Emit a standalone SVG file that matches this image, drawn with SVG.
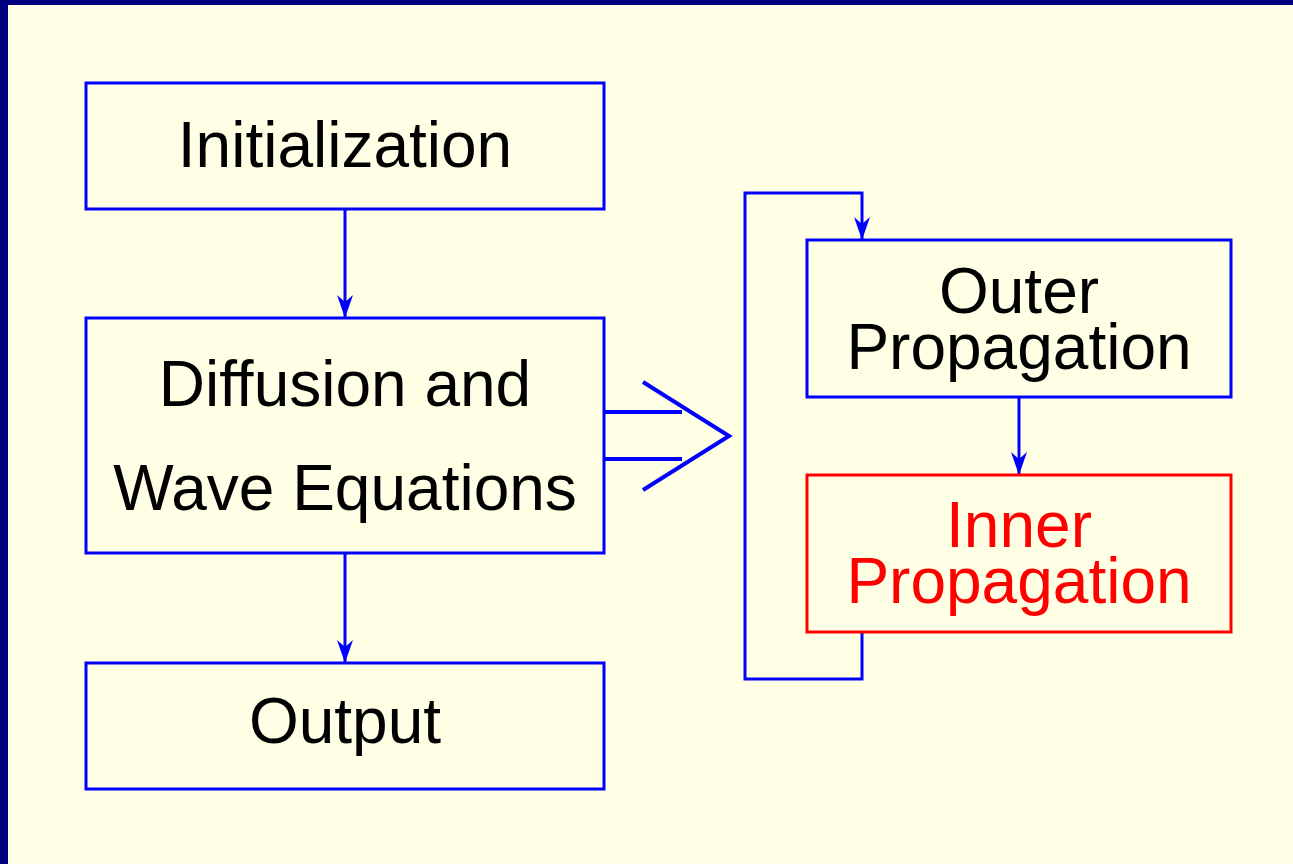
<svg xmlns="http://www.w3.org/2000/svg" width="1293" height="864" viewBox="0 0 1293 864">
<defs>
<marker id="ah" viewBox="0 0 24 18" refX="23" refY="9" markerWidth="24" markerHeight="18" markerUnits="userSpaceOnUse" orient="auto">
<path d="M0,1 L23,9 L0,17 L7,9 Z" fill="#0000FF"/>
</marker>
</defs>
<style>
.box{fill:none;stroke:#0000FF;stroke-width:3}
.red{fill:none;stroke:#FF0000;stroke-width:3}
.t{font-family:"Liberation Sans",Arial,sans-serif;font-size:64px;fill:#000;text-anchor:middle}
.tr{font-family:"Liberation Sans",Arial,sans-serif;font-size:64px;fill:#FF0000;text-anchor:middle}
.ln{fill:none;stroke:#0000FF;stroke-width:3}
.ln4{fill:none;stroke:#0000FF;stroke-width:4}
</style>
<rect x="0" y="0" width="1293" height="864" fill="#000080"/>
<rect x="8" y="5" width="1285" height="859" fill="#FFFFE6"/>
<g id="connectors">
<line class="ln" x1="345" y1="209" x2="345" y2="318" marker-end="url(#ah)"/>
<line class="ln" x1="345" y1="553" x2="345" y2="663" marker-end="url(#ah)"/>
<line class="ln" x1="1019" y1="397" x2="1019" y2="475" marker-end="url(#ah)"/>
<polyline class="ln" points="862,632 862,679 745,679 745,193 862,193 862,240" marker-end="url(#ah)"/>
<g id="double-arrow">
<line class="ln4" x1="604" y1="412" x2="682" y2="412"/>
<line class="ln4" x1="604" y1="459" x2="682" y2="459"/>
<polyline class="ln4" points="643,382 729,436 643,490"/>
</g>
</g>
<g id="init">
<rect class="box" x="86" y="83" width="518" height="126"/>
<text class="t" x="345" y="167">Initialization</text>
</g>
<g id="diffusion">
<rect class="box" x="86" y="318" width="518" height="235"/>
<text class="t" x="345" y="406">Diffusion and</text>
<text class="t" x="345" y="510">Wave Equations</text>
</g>
<g id="output">
<rect class="box" x="86" y="663" width="518" height="126"/>
<text class="t" x="345" y="743">Output</text>
</g>
<g id="outer">
<rect class="box" x="807" y="240" width="424" height="157"/>
<text class="t" x="1019" y="313">Outer</text>
<text class="t" x="1019" y="369">Propagation</text>
</g>
<g id="inner">
<rect class="red" x="807" y="475" width="424" height="157"/>
<text class="tr" x="1019" y="547">Inner</text>
<text class="tr" x="1019" y="603">Propagation</text>
</g>
</svg>
